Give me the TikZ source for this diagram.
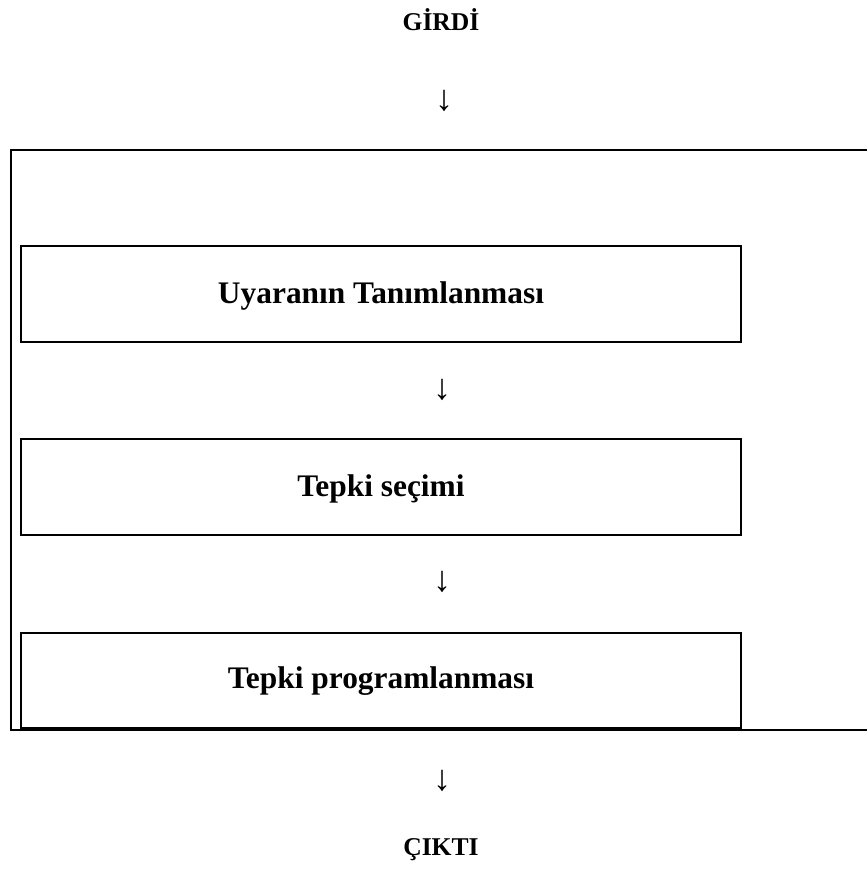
\documentclass[tikz,border=0pt]{standalone}
\usepackage{fontspec}
\setmainfont{Liberation Serif}
\begin{document}
\begin{tikzpicture}[x=0.5pt, y=-0.5pt, line width=1pt,
	kutu/.style={draw, inner sep=0pt, minimum width=360pt, minimum height=48pt},
	yazi/.style={font=\bfseries\fontsize{15.7}{18}\selectfont, anchor=base},
	baslik/.style={font=\bfseries\fontsize{12.8}{15}\selectfont, anchor=base},
	ok/.style={font=\fontsize{18}{21}\selectfont}]
	\useasboundingbox (0,0) rectangle (867,874);
	\draw (11,150) rectangle (880,730); % dış çerçeve, sağ kenar sayfa dışında
	\node[kutu] (K1) at (381,294) {};
	\node[kutu] (K2) at (381,487) {};
	\node[kutu, minimum height=47.5pt] (K3) at (381,680.5) {};
	\node[yazi] (T1) at (381,303) {Uyaranın Tanımlanması};
	\node[yazi] (T2) at (381,496) {Tepki seçimi};
	\node[yazi] (T3) at (381,688) {Tepki programlanması};
	\node[baslik] (G) at (441,30) {GİRDİ};
	\node[baslik] (C) at (441,855) {ÇIKTI};
	\node[ok] (O1) at (444,101) {↓};
	\node[ok] (O2) at (442,390) {↓};
	\node[ok] (O3) at (442,582) {↓};
	\node[ok] (O4) at (442,781) {↓};
\end{tikzpicture}
\end{document}
